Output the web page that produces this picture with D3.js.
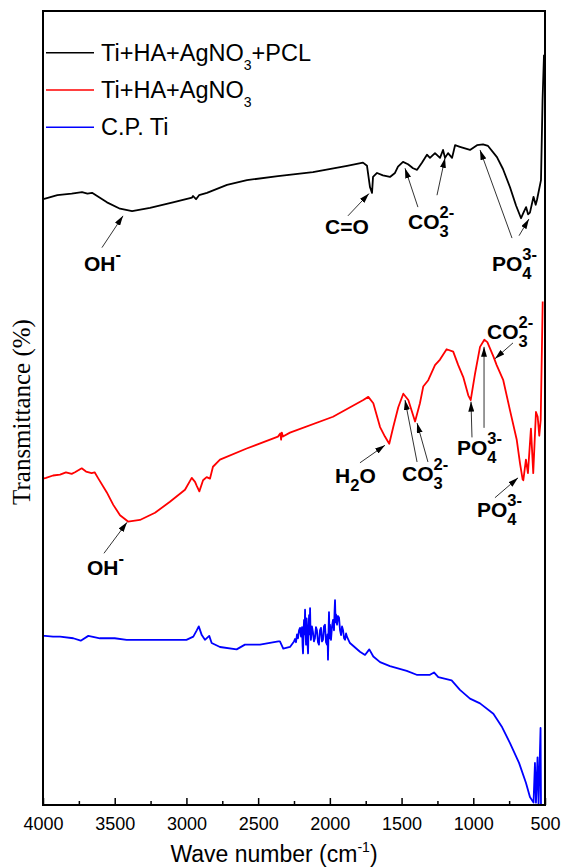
<!DOCTYPE html>
<html>
<head>
<meta charset="utf-8">
<script src="https://cdn.jsdelivr.net/npm/d3@7"></script>
<style>
  body { margin: 0; background: #fff; }
  text { font-family: "Liberation Sans", Arial, sans-serif; fill: #000; }
</style>
</head>
<body>
<svg class="chart"></svg>
<script>
// DATA /////////////////////////////////////////
const seriesNames = ["pcl", "ag", "ti"];
const seriesColors = ["#000000", "#ff0000", "#0000ff"];
const majorTicks = [4000, 3500, 3000, 2500, 2000, 1500, 1000, 500];
const minorTicks = [3750, 3250, 2750, 2250, 1750, 1250, 750];

// [wave number, transmittance]
const pclSpectrum = [
  [4000, 76.3], [3979, 76.4], [3900, 76.8], [3800, 77.0], [3728, 77.2], [3690, 77.0],
  [3658, 77.1], [3554, 75.9], [3463, 75.1], [3379, 74.8], [3254, 75.2], [3094, 75.9],
  [2961, 76.5], [2954, 76.7], [2933, 76.3], [2912, 76.8], [2857, 77.1], [2717, 78.1],
  [2578, 78.7], [2362, 79.2], [2118, 79.7], [1880, 80.5], [1769, 80.9], [1741, 80.5],
  [1720, 77.8], [1706, 77.1], [1699, 79.1], [1671, 79.6], [1630, 79.3], [1581, 79.1],
  [1546, 79.6], [1525, 80.4], [1490, 81.0], [1455, 80.7], [1420, 80.2], [1392, 80.0],
  [1358, 80.9], [1323, 81.9], [1302, 81.5], [1267, 82.1], [1232, 81.5], [1211, 82.5],
  [1197, 81.5], [1176, 82.1], [1148, 81.5], [1127, 83.1], [1093, 82.9], [1058, 82.7],
  [1023, 82.5], [974, 83.1], [932, 83.2], [897, 83.0], [835, 81.6], [793, 80.1],
  [744, 77.8], [702, 75.5], [667, 73.9], [650, 74.6], [632, 75.3], [618, 74.4],
  [605, 74.6], [580, 76.6], [565, 75.6], [556, 76.2], [528, 78.7], [517, 88.8], [507, 94.5]
];

const agSpectrum = [
  [4000, 41.1], [3979, 41.2], [3930, 41.5], [3881, 41.6], [3840, 41.9], [3800, 41.7],
  [3777, 41.9], [3730, 42.4], [3700, 42.0], [3661, 41.8], [3640, 41.9], [3617, 41.2],
  [3556, 39.4], [3510, 37.8], [3463, 36.5], [3407, 35.7], [3324, 35.9], [3219, 36.8],
  [3115, 38.2], [3010, 39.7], [2963, 41.2], [2940, 40.7], [2928, 40.2], [2910, 39.5],
  [2884, 40.9], [2859, 41.3], [2836, 41.1], [2815, 42.6], [2766, 43.5], [2580, 44.9],
  [2362, 46.4], [2345, 46.8], [2340, 46.0], [2335, 46.9], [2327, 46.4], [2278, 46.9],
  [1978, 48.9], [1767, 51.0], [1732, 51.4], [1697, 50.6], [1650, 47.6], [1616, 46.4],
  [1586, 45.5], [1558, 47.6], [1523, 50.1], [1488, 51.8], [1453, 51.0], [1406, 48.3],
  [1372, 50.6], [1349, 52.7], [1314, 53.5], [1267, 55.4], [1232, 56.1], [1186, 57.4],
  [1140, 57.1], [1105, 55.4], [1070, 53.9], [1035, 51.6], [1018, 51.0], [988, 54.3],
  [953, 57.7], [923, 58.6], [902, 58.3], [860, 56.5], [837, 55.4], [791, 53.5],
  [744, 49.7], [697, 46.0], [674, 43.0], [656, 41.0], [651, 40.9], [633, 43.5],
  [619, 41.8], [598, 47.4], [582, 41.8], [563, 49.5], [551, 48.9], [540, 46.5],
  [530, 48.5], [516, 63.4]
];

const tiSpectrum = [
  [4000, 21.3], [3986, 21.3], [3930, 21.2], [3881, 21.2], [3789, 21.0], [3737, 20.7],
  [3684, 21.3], [3603, 21.0], [3500, 21.0], [3417, 20.8], [3092, 20.8], [3000, 20.8],
  [2952, 21.2], [2928, 22.0], [2914, 22.5], [2893, 21.4], [2871, 20.8], [2841, 21.3],
  [2824, 20.4], [2766, 19.9], [2650, 19.6], [2592, 20.2], [2487, 20.2], [2359, 20.6],
  [2348, 20.6], [2325, 19.7], [2278, 19.9], [2250, 20.6], [2243, 20.9], [2236, 20.5],
  [2229, 21.5], [2222, 21.0], [2215, 22.0], [2208, 22.3], [2201, 21.2], [2194, 22.4],
  [2190, 20.0], [2187, 19.1], [2183, 22.0], [2180, 23.3], [2176, 21.5], [2173, 24.6],
  [2170, 22.0], [2166, 20.2], [2162, 23.5], [2159, 22.0], [2156, 20.5], [2152, 19.1],
  [2148, 22.5], [2145, 23.9], [2141, 21.5], [2138, 24.8], [2135, 22.0], [2132, 20.8],
  [2125, 22.5], [2118, 21.8], [2111, 20.6], [2104, 21.0], [2097, 22.4], [2090, 22.0],
  [2083, 20.5], [2076, 20.2], [2069, 22.0], [2062, 22.3], [2055, 20.6], [2048, 20.8],
  [2041, 22.5], [2034, 22.7], [2027, 20.5], [2020, 20.2], [2016, 21.5], [2013, 18.3],
  [2009, 22.0], [2006, 24.3], [2002, 21.0], [1999, 22.7], [1995, 21.5], [1992, 20.8],
  [1985, 22.5], [1978, 23.3], [1971, 22.0], [1967, 24.5], [1964, 25.8], [1960, 23.0],
  [1957, 24.0], [1950, 22.7], [1943, 23.8], [1936, 23.6], [1929, 22.0], [1922, 21.4],
  [1915, 22.5], [1908, 22.0], [1901, 21.0], [1894, 20.8], [1887, 21.6], [1881, 21.2],
  [1860, 20.4], [1790, 19.3], [1755, 18.9], [1725, 19.6], [1697, 18.7], [1650, 18.0],
  [1581, 17.5], [1464, 16.9], [1395, 16.4], [1302, 16.4], [1274, 16.7], [1244, 16.1],
  [1151, 15.7], [1093, 14.5], [1023, 13.4], [953, 12.8], [860, 11.5], [802, 9.9],
  [744, 7.8], [681, 5.3], [633, 2.8], [605, 1.0], [580, 0.3], [570, 5.3], [563, 0.3],
  [552, 6.0], [545, 0], [531, 9.7], [528, 0], [520, -1]
];

const legendLabels = [["Ti+HA+AgNO", "3", "+PCL"], ["Ti+HA+AgNO", "3", ""], ["C.P. Ti", "", ""]];

// peak labels: text anchor and arrows (tail -> tip) in [wave number, transmittance]
const peakLabels = [
  { at: [3714, 67.2], parts: [["OH"], ["-", "sup"]], arrows: [[[3589, 70.2], [3442, 74.2]]] },
  { at: [2034, 71.9], parts: [["C=O"]], arrows: [[[1874, 74.2], [1727, 77.0]]] },
  { at: [1455, 72.5], parts: [["CO"], ["3", "sub", 0], ["2-", "sup"]],
    arrows: [[[1386, 75.3], [1476, 80.2]], [[1253, 76.8], [1197, 81.5]]] },
  { at: [870, 67.2], parts: [["PO"], ["4", "sub", 0], ["3-", "sup"]],
    arrows: [[[730, 71.4], [953, 82.5]], [[681, 71.7], [612, 73.8]]] },
  { at: [3693, 29.0], parts: [["OH"], ["-", "sup"]], arrows: [[[3575, 31.7], [3414, 35.6]]] },
  { at: [1964, 40.6], parts: [["H"], ["2", "sub"], ["O"]], arrows: [[[1790, 43.1], [1616, 45.3]]] },
  { at: [1497, 40.8], parts: [["CO"], ["3", "sub", 0], ["2-", "sup"]],
    arrows: [[[1392, 43.2], [1476, 51.0]], [[1316, 43.2], [1392, 48.1]]] },
  { at: [1114, 44.1], parts: [["PO"], ["4", "sub", 0], ["3-", "sup"]],
    arrows: [[[1009, 46.3], [1016, 50.8]], [[925, 47.5], [925, 57.7]]] },
  { at: [904, 58.7], parts: [["CO"], ["3", "sub", 0], ["2-", "sup"]], arrows: [[[723, 58.2], [849, 56.2]]] },
  { at: [974, 36.3], parts: [["PO"], ["4", "sub", 0], ["3-", "sup"]], arrows: [[[849, 38.7], [688, 41.2]]] }
];

// LAYOUT ///////////////////////////////////////
const W = 567, H = 868;
const plot = { left: 43, right: 545, top: 11, bottom: 805 };

const svg = d3.select(".chart").attr("width", W).attr("height", H);

const x = d3.scaleLinear().domain([4000, 500]).range([plot.left, plot.right]);
const y = d3.scaleLinear().domain([0, 100]).range([plot.bottom, plot.top]);

svg.append("defs").append("clipPath").attr("id", "clip")
  .append("rect")
  .attr("x", plot.left).attr("y", plot.top)
  .attr("width", plot.right - plot.left).attr("height", plot.bottom - plot.top);

svg.select("defs").append("marker")
  .attr("id", "head")
  .attr("viewBox", "0 0 10 6")
  .attr("refX", 10).attr("refY", 3)
  .attr("markerWidth", 10).attr("markerHeight", 6)
  .attr("markerUnits", "userSpaceOnUse")
  .attr("orient", "auto")
  .append("path").attr("d", "M0,0 L10,3 L0,6 z").attr("fill", "#000");

// CURVES ///////////////////////////////////////
const line = d3.line().x((d) => x(d[0])).y((d) => y(d[1]));
const curves = svg.append("g").attr("clip-path", "url(#clip)");
[pclSpectrum, agSpectrum, tiSpectrum].forEach((data, i) => {
  curves.append("path")
    .attr("class", "spectrum " + seriesNames[i])
    .attr("d", line(data))
    .attr("fill", "none")
    .attr("stroke", seriesColors[i])
    .attr("stroke-width", 1.8)
    .attr("stroke-linejoin", "round");
});

// AXES /////////////////////////////////////////
const xAxis = svg.append("g")
  .attr("transform", `translate(0, ${plot.bottom})`)
  .call(d3.axisBottom(x).tickValues(majorTicks).tickFormat(d3.format("d"))
    .tickSizeInner(-7).tickSizeOuter(0).tickPadding(12));
xAxis.select(".domain").remove();
xAxis.selectAll("line").attr("stroke", "#000").attr("stroke-width", 1.5);
xAxis.selectAll("text").style("font-size", "18px").style("font-family", '"Liberation Sans", Arial, sans-serif');

const xMinor = svg.append("g")
  .attr("transform", `translate(0, ${plot.bottom})`)
  .call(d3.axisBottom(x).tickValues(minorTicks).tickSizeInner(-4).tickSizeOuter(0).tickFormat(""));
xMinor.select(".domain").remove();
xMinor.selectAll("line").attr("stroke", "#000").attr("stroke-width", 1.5);

svg.append("rect")
  .attr("x", plot.left).attr("y", plot.top)
  .attr("width", plot.right - plot.left).attr("height", plot.bottom - plot.top)
  .attr("fill", "none").attr("stroke", "#000").attr("stroke-width", 2);

const xTitle = svg.append("text")
  .attr("x", 274).attr("y", 862)
  .attr("text-anchor", "middle")
  .style("font-size", "23px");
xTitle.append("tspan").text("Wave number (cm");
xTitle.append("tspan").attr("dy", -10).style("font-size", "14px").text("-1");
xTitle.append("tspan").attr("dy", 10).text(")");

svg.append("text")
  .attr("transform", "translate(30, 412) rotate(-90)")
  .attr("text-anchor", "middle")
  .style("font-family", '"Liberation Serif", "Times New Roman", serif')
  .style("font-size", "25px")
  .text("Transmittance (%)");

// LEGEND ///////////////////////////////////////
const legend = svg.append("g");
legendLabels.forEach((parts, i) => {
  const ly = 52.7 + i * 37.3;
  legend.append("line")
    .attr("x1", 46).attr("x2", 94).attr("y1", ly).attr("y2", ly)
    .attr("stroke", seriesColors[i]).attr("stroke-width", 1.5);
  const t = legend.append("text").attr("x", 101).attr("y", ly + 8).style("font-size", "23.5px");
  t.append("tspan").text(parts[0]);
  if (parts[1]) t.append("tspan").attr("dy", 9).style("font-size", "14px").text(parts[1]);
  if (parts[2]) t.append("tspan").attr("dy", -9).text(parts[2]);
});

// PEAK LABELS //////////////////////////////////
const notes = svg.append("g");
peakLabels.forEach((lab) => {
  lab.arrows.forEach(([from, to]) => {
    notes.append("line")
      .attr("x1", x(from[0])).attr("y1", y(from[1]))
      .attr("x2", x(to[0])).attr("y2", y(to[1]))
      .attr("stroke", "#333").attr("stroke-width", 1)
      .attr("marker-end", "url(#head)");
  });
  let cx = x(lab.at[0]);
  const by = y(lab.at[1]);
  lab.parts.forEach(([str, kind, advance]) => {
    const size = kind ? 16.5 : 21;
    const dy = kind === "sub" ? 8 : kind === "sup" ? -11 : 0;
    const el = notes.append("text")
      .attr("x", cx).attr("y", by + dy)
      .style("font-size", size + "px")
      .style("font-weight", "bold")
      .text(str);
    if (advance !== 0) cx += el.node().getComputedTextLength();
  });
});
</script>
</body>
</html>
